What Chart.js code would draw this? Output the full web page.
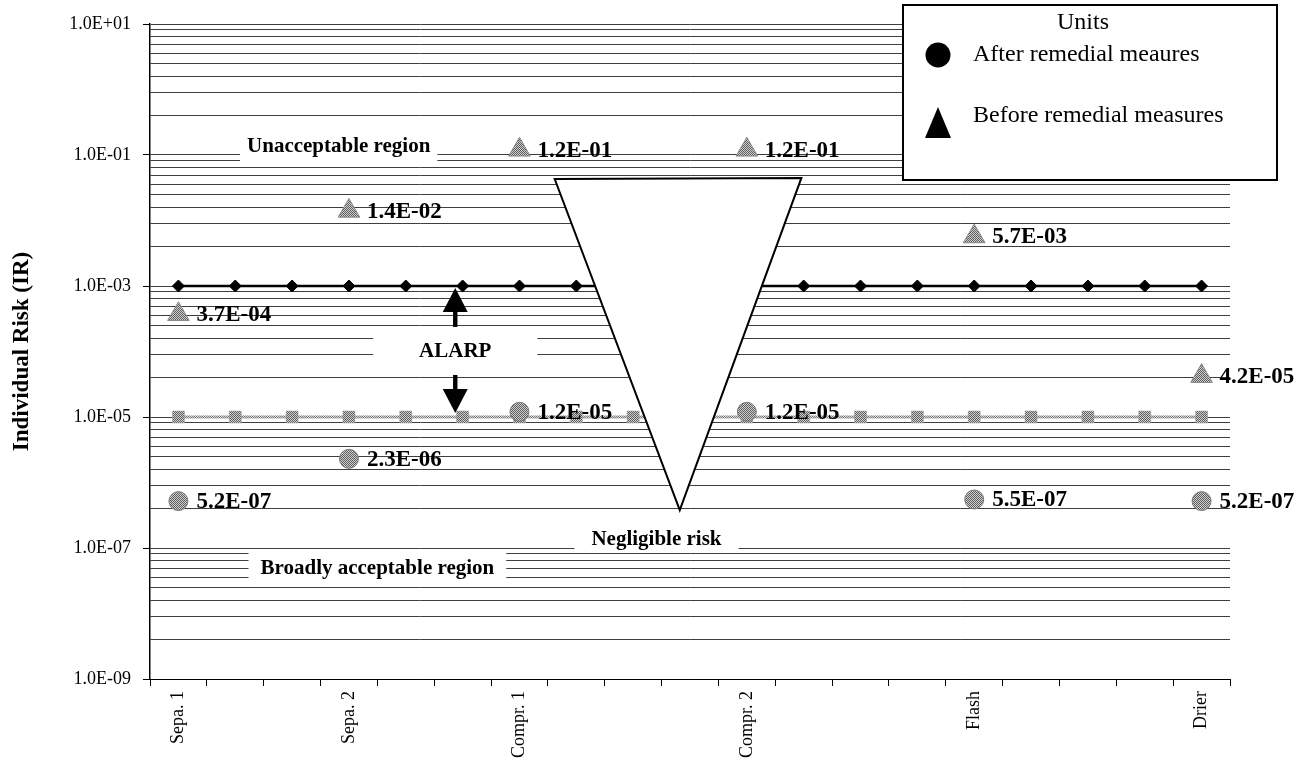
<!DOCTYPE html>
<html>
<head>
<meta charset="utf-8">
<script src="https://cdn.jsdelivr.net/npm/chart.js@4.4.0/dist/chart.umd.min.js"></script>
<style>
  html, body { margin: 0; padding: 0; background: #fff; }
  #wrap { width: 1305px; height: 778px; position: relative; }
</style>
</head>
<body>
<div id="wrap"><canvas id="chart"></canvas></div>
<script>
// units and individual risk values
const units = ['Sepa. 1', 'Sepa. 2', 'Compr. 1', 'Compr. 2', 'Flash', 'Drier'];
const unitSlot = [0, 3, 6, 10, 14, 18];   // where each unit sits on the 19-slot axis
const slotCount = 19;

const beforeRemedial = [3.7e-4, 1.4e-2, 1.2e-1, 1.2e-1, 5.7e-3, 4.2e-5];
const afterRemedial  = [5.2e-7, 2.3e-6, 1.2e-5, 1.2e-5, 5.5e-7, 5.2e-7];

// tolerability limits (one point per slot)
const upperLimit = [1e-3, 1e-3, 1e-3, 1e-3, 1e-3, 1e-3, 1e-3, 1e-3, 1e-3, 1e-3,
                    1e-3, 1e-3, 1e-3, 1e-3, 1e-3, 1e-3, 1e-3, 1e-3, 1e-3];
const lowerLimit = [1e-5, 1e-5, 1e-5, 1e-5, 1e-5, 1e-5, 1e-5, 1e-5, 1e-5, 1e-5,
                    1e-5, 1e-5, 1e-5, 1e-5, 1e-5, 1e-5, 1e-5, 1e-5, 1e-5];

const yMajor = [1e-9, 1e-7, 1e-5, 1e-3, 1e-1, 1e1];
const yTickLabels = ['1.0E-09', '1.0E-07', '1.0E-05', '1.0E-03', '1.0E-01', '1.0E+01'];

const regionText = ['Unacceptable region', 'ALARP', 'Negligible risk', 'Broadly acceptable region'];

// build the 19-slot arrays
const slotLabels = new Array(slotCount).fill('');
const beforeSeries = new Array(slotCount).fill(null);
const afterSeries = new Array(slotCount).fill(null);
unitSlot.forEach((s, i) => {
  slotLabels[s] = units[i];
  beforeSeries[s] = beforeRemedial[i];
  afterSeries[s] = afterRemedial[i];
});

const SERIF = "'Liberation Serif', 'Times New Roman', serif";

function fmtExp(v) {
  const [m, e] = v.toExponential(1).split('e');
  const n = parseInt(e, 10);
  return m + 'E' + (n < 0 ? '-' : '+') + String(Math.abs(n)).padStart(2, '0');
}

const canvas = document.getElementById('chart');
const ctx0 = canvas.getContext('2d');

// small checker pattern to mimic the hatched grey markers
function hatch(dark, light) {
  const c = document.createElement('canvas');
  c.width = 2; c.height = 2;
  const g = c.getContext('2d');
  g.fillStyle = light; g.fillRect(0, 0, 2, 2);
  g.fillStyle = dark; g.fillRect(0, 0, 1, 1); g.fillRect(1, 1, 1, 1);
  return ctx0.createPattern(c, 'repeat');
}
const hatchFill = hatch('#5e5e5e', '#cfcfcf');
const hatchLine = hatch('#7a7a7a', '#d8d8d8');

// region labels, funnel, arrows, value labels
const overlayPlugin = {
  id: 'overlay',
  afterDatasetsDraw(chart) {
    const { ctx, scales: { x, y } } = chart;
    ctx.save();

    // region labels with white boxes over the grid
    const regions = [
      { text: regionText[0], slot: 2.82, val: 1.37e-1, padX: 7,  top: -20, bottom: 19 },
      { text: regionText[1], slot: 4.87, val: 1.02e-4, padX: 46, top: -22, bottom: 22 },
      { text: regionText[2], slot: 8.41, val: 1.37e-7, padX: 17, top: -13, bottom: 11 },
      { text: regionText[3], slot: 3.5,  val: 4.95e-8, padX: 12, top: -16, bottom: 14 }
    ];
    ctx.font = 'bold 21px ' + SERIF;
    ctx.textAlign = 'center';
    ctx.textBaseline = 'middle';
    regions.forEach(r => {
      const cx = x.getPixelForValue(r.slot);
      const cy = y.getPixelForValue(r.val);
      const tw = ctx.measureText(r.text).width;
      ctx.fillStyle = '#fff';
      ctx.fillRect(cx - tw / 2 - r.padX, cy + r.top, tw + 2 * r.padX, r.bottom - r.top);
      ctx.fillStyle = '#000';
      ctx.fillText(r.text, cx, cy + 1);
    });

    // ALARP arrows between the two limits
    const ax = x.getPixelForValue(regions[1].slot);
    const ay = y.getPixelForValue(regions[1].val);
    const upTip = y.getPixelForValue(upperLimit[0]) + 2;
    const downTip = y.getPixelForValue(lowerLimit[0]) - 4;
    function arrow(fromY, tipY) {
      const dir = tipY < fromY ? -1 : 1;
      const headLen = 24, headW = 12.5, shaftW = 2.2;
      const baseY = tipY - dir * headLen;
      ctx.fillStyle = '#000';
      ctx.fillRect(ax - shaftW, Math.min(fromY, baseY), shaftW * 2, Math.abs(baseY - fromY));
      ctx.beginPath();
      ctx.moveTo(ax, tipY);
      ctx.lineTo(ax - headW, baseY);
      ctx.lineTo(ax + headW, baseY);
      ctx.closePath();
      ctx.fill();
    }
    arrow(ay - 24, upTip);
    arrow(ay + 24, downTip);

    // inverted funnel
    const funnel = [[6.62, 4.3e-2], [10.96, 4.46e-2], [8.82, 3.8e-7]];
    ctx.beginPath();
    funnel.forEach(([s, v], i) => {
      const px = x.getPixelForValue(s), py = y.getPixelForValue(v);
      i ? ctx.lineTo(px, py) : ctx.moveTo(px, py);
    });
    ctx.closePath();
    ctx.fillStyle = '#fff';
    ctx.fill();
    ctx.lineWidth = 2;
    ctx.strokeStyle = '#000';
    ctx.lineJoin = 'miter';
    ctx.stroke();

    // value labels next to the unit markers
    ctx.font = 'bold 23px ' + SERIF;
    ctx.textAlign = 'left';
    ctx.textBaseline = 'middle';
    ctx.fillStyle = '#000';
    [0, 1].forEach(di => {
      const meta = chart.getDatasetMeta(di);
      const vals = chart.data.datasets[di].data;
      meta.data.forEach((pt, i) => {
        if (vals[i] == null) return;
        ctx.fillText(fmtExp(vals[i]), pt.x + 18, pt.y + 1);
      });
    });
    ctx.restore();
  },
  afterDraw(chart) {
    const ctx = chart.ctx;
    const lx = chart.width - 402, ly = 5, lw = 374, lh = 175;
    ctx.save();
    ctx.fillStyle = '#fff';
    ctx.fillRect(lx, ly, lw, lh);
    ctx.lineWidth = 2;
    ctx.strokeStyle = '#000';
    ctx.strokeRect(lx, ly, lw, lh);

    ctx.fillStyle = '#000';
    ctx.font = '24px ' + SERIF;
    ctx.textBaseline = 'middle';
    ctx.textAlign = 'center';
    ctx.fillText('Units', lx + 180, ly + 18);

    ctx.textAlign = 'left';
    // circle item
    ctx.beginPath();
    ctx.arc(lx + 35, ly + 50, 12.5, 0, Math.PI * 2);
    ctx.fill();
    ctx.fillText(chart.data.datasets[1].label, lx + 70, ly + 50);
    // triangle item
    ctx.beginPath();
    ctx.moveTo(lx + 35, ly + 102);
    ctx.lineTo(lx + 22, ly + 133);
    ctx.lineTo(lx + 48, ly + 133);
    ctx.closePath();
    ctx.fill();
    ctx.fillText(chart.data.datasets[0].label, lx + 70, ly + 111);
    ctx.restore();
  }
};

new Chart(canvas, {
  type: 'line',
  data: {
    labels: slotLabels,
    datasets: [
      {
        label: 'Before remedial measures',
        data: beforeSeries,
        showLine: false,
        pointStyle: 'triangle',
        pointRadius: 12.5,
        backgroundColor: hatchFill,
        borderColor: '#8a8a8a',
        borderWidth: 1
      },
      {
        label: 'After remedial meaures',
        data: afterSeries,
        showLine: false,
        pointStyle: 'circle',
        pointRadius: 9.5,
        backgroundColor: hatchFill,
        borderColor: '#7a7a7a',
        borderWidth: 1
      },
      {
        label: 'Upper limit',
        data: upperLimit,
        borderColor: '#000',
        borderWidth: 2.5,
        pointStyle: 'rectRot',
        pointRadius: 6,
        pointBackgroundColor: '#000',
        pointBorderColor: '#000',
        pointBorderWidth: 1
      },
      {
        label: 'Lower limit',
        data: lowerLimit,
        borderColor: hatchLine,
        borderWidth: 3,
        pointStyle: 'rect',
        pointRadius: 8.5,
        pointBackgroundColor: hatchFill,
        pointBorderColor: '#9a9a9a',
        pointBorderWidth: 0.5
      }
    ]
  },
  options: {
    responsive: true,
    maintainAspectRatio: false,
    animation: false,
    events: [],
    layout: { padding: { top: 24, right: 75, bottom: 0, left: 0 } },
    plugins: {
      legend: { display: false },
      tooltip: { enabled: false }
    },
    scales: {
      x: {
        type: 'category',
        offset: true,
        grid: { display: true, drawOnChartArea: false, drawTicks: true, tickLength: 7, color: '#000', offset: true },
        border: { color: '#000', width: 1 },
        ticks: {
          autoSkip: false, minRotation: 90, maxRotation: 90,
          color: '#000', font: { family: SERIF, size: 18 }, padding: 5
        },
        afterFit(s) { s.height = 99; }
      },
      y: {
        type: 'logarithmic',
        min: yMajor[0],
        max: yMajor[yMajor.length - 1],
        afterBuildTicks(scale) {
          const t = [];
          for (let i = 0; i < yMajor.length - 1; i++) {
            for (let k = 1; k <= 9; k++) t.push({ value: yMajor[i] * k * k });
          }
          t.push({ value: yMajor[yMajor.length - 1] });
          scale.ticks = t;
        },
        afterFit(s) { s.width = 150; },
        grid: {
          color: '#3e3e3e', lineWidth: 1, drawTicks: true, tickLength: 7,
          tickColor: c => (c.index % 9 === 0 ? '#000' : 'rgba(0,0,0,0)')
        },
        border: { color: '#000', width: 1.5 },
        ticks: {
          autoSkip: false,
          color: '#000',
          font: { family: SERIF, size: 18 },
          padding: 12,
          callback: (v, i) => (i % 9 === 0 ? yTickLabels[i / 9] : '')
        },
        title: {
          display: true,
          text: 'Individual Risk (IR)',
          color: '#000',
          font: { family: SERIF, size: 23, weight: 'bold' },
          padding: { top: 8, bottom: 0 }
        }
      }
    }
  },
  plugins: [overlayPlugin]
});
</script>
</body>
</html>
